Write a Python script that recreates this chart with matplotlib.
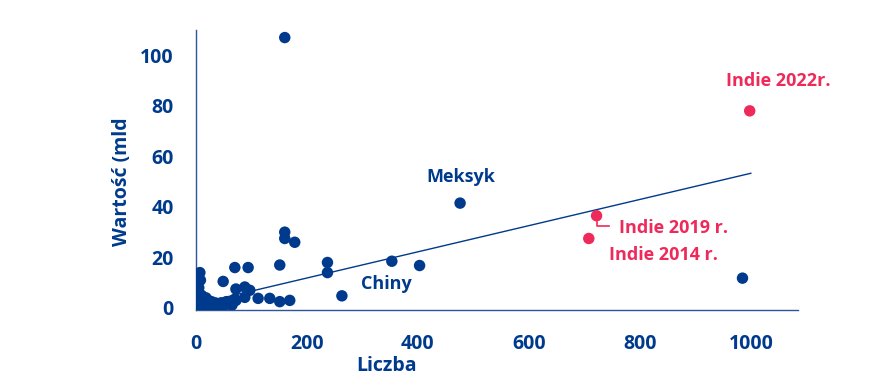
import matplotlib.pyplot as plt

plt.rcParams['font.family'] = ['Open Sans', 'DejaVu Sans']

BLUE = '#003A8C'
PINK = '#EE2A5B'

# kraje (niebieskie punkty)
liczba = [160, 476, 985, 353, 403, 263, 237, 237, 160, 160, 178, 151,
          70, 94, 49, 169, 151, 133, 112, 88, 97, 88, 72, 72, 70,
          7, 8, 5, 3, 2, 10, 12, 15, 18, 20, 22, 25, 28, 30, 35, 40,
          45, 55, 60, 4, 6, 9, 14, 2, 1, 3, 5, 11, 16, 24, 33, 38, 50, 65]
wartosc = [107, 41.5, 11.8, 18.5, 16.8, 4.8, 18, 14, 30, 27.5, 26, 17,
           16, 16, 10.5, 3, 2.5, 3.8, 3.8, 4.2, 7, 8.3, 7.5, 3, 3.5,
           14, 11, 8, 6, 4, 5, 3, 2.5, 4, 2, 3, 1.5, 2.5, 1, 2, 1.5,
           2, 2.5, 1.5, 2, 1, 1.5, 1, 0.5, 1, 0.3, 0.5, 0.8, 0.6, 0.4, 0.8, 0.5, 1, 1.2]

# Indie
indie_x = [708, 722, 998]
indie_y = [27.5, 36.5, 78]

# linia trendu
trend_x = [0, 1000]
trend_y = [1.5, 53.3]

fig = plt.figure(figsize=(8.9, 3.92), dpi=100)
ax = fig.add_axes([0.2202, 0.2092, 0.6764, 0.7143])

ax.plot(trend_x, trend_y, color=BLUE, lw=1, zorder=2)
ax.scatter(liczba, wartosc, s=68, color=BLUE, edgecolors='none', zorder=3)
ax.scatter(indie_x, indie_y, s=68, color=PINK, edgecolors='none', zorder=3)

ax.set_xlim(0, 1085)
ax.set_ylim(-0.8, 110)
ax.set_xticks([0, 200, 400, 600, 800, 1000])
ax.set_yticks([0, 20, 40, 60, 80, 100])

for s in ['top', 'right']:
    ax.spines[s].set_visible(False)
for s in ['left', 'bottom']:
    ax.spines[s].set_color('#2E5597')
    ax.spines[s].set_linewidth(1)

ax.tick_params(length=0, labelsize=14, labelcolor=BLUE)
ax.tick_params(axis='y', pad=16)
ax.tick_params(axis='x', pad=17)
for lab in ax.get_xticklabels() + ax.get_yticklabels():
    lab.set_fontweight('bold')

ax.set_xlabel('Liczba', fontsize=14, fontweight='bold', color=BLUE)
ax.set_ylabel('Wartość (mld', fontsize=14, fontweight='bold', color=BLUE)
ax.xaxis.set_label_coords(0.317, -0.165)
ax.yaxis.set_label_coords(-0.106, 0.457)

ax.text(477, 52, 'Meksyk', fontsize=13, fontweight='bold', color=BLUE, ha='center', va='center')
ax.text(343, 9.5, 'Chiny', fontsize=13, fontweight='bold', color=BLUE, ha='center', va='center')
ax.text(1050, 90, 'Indie 2022r.', fontsize=13, fontweight='bold', color=PINK, ha='center', va='center')
ax.text(861, 31.6, 'Indie 2019 r.', fontsize=13, fontweight='bold', color=PINK, ha='center', va='center')
ax.text(842, 21.0, 'Indie 2014 r.', fontsize=13, fontweight='bold', color=PINK, ha='center', va='center')
ax.plot([722, 722, 745], [34, 32.5, 32.5], color=PINK, lw=1.2)

fig.savefig('out.png', dpi=100)
